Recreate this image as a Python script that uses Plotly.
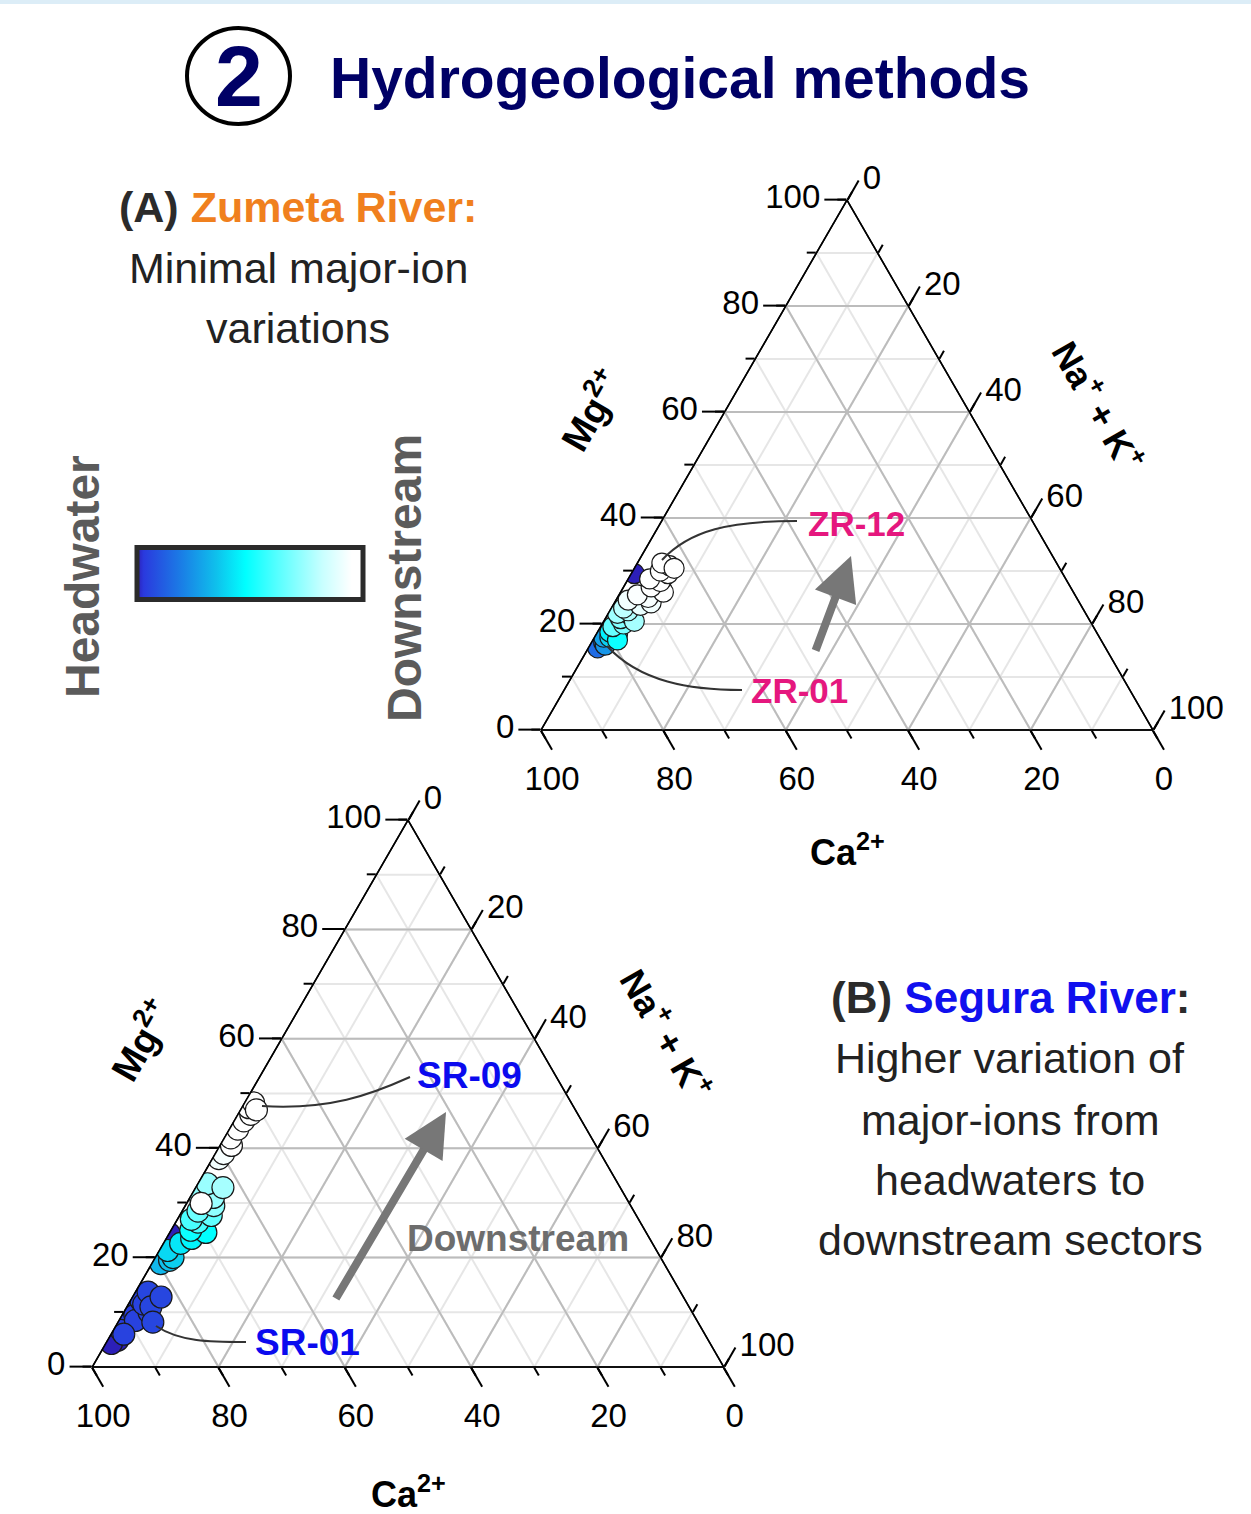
import numpy as np
import plotly.graph_objects as go

W, H = 1251, 1514

# ---------------- data ----------------
# Zumeta River (A): Mg2+, Na+ + K+ (% meq), downstream position (0 = headwater, 1 = downstream)
zr_mg  = [29.5, 17.0, 15.5, 16.5, 16.0, 17.5,
          17.5, 18.0, 18.5, 19.0, 17.0,
          19.5, 20.0, 21.0, 21.5, 22.0, 20.5, 22.5, 23.0,
          23.5, 24.0, 25.0, 25.5, 26.5, 27.0, 28.0, 28.5, 29.5, 30.0, 31.0, 31.5, 30.5, 26.0, 24.5]
zr_nak = [0.5, 2.0, 1.5, 2.0, 2.5, 1.5,
          2.5, 3.5, 2.0, 3.0, 4.0,
          2.0, 3.5, 2.5, 4.0, 1.5, 5.0, 3.0, 2.0,
          4.5, 6.0, 5.0, 3.0, 6.5, 4.5, 5.5, 3.5, 6.0, 4.5, 5.5, 4.0, 6.5, 7.0, 2.0]
zr_pos = [0.00, 0.12, 0.15, 0.20, 0.25, 0.28,
          0.38, 0.42, 0.45, 0.48, 0.50,
          0.65, 0.68, 0.70, 0.72, 0.75, 0.76, 0.78, 0.80,
          0.90, 0.92, 0.93, 0.94, 0.95, 0.96, 0.97, 0.98, 0.99, 1.00, 1.00, 1.00, 1.00, 0.95, 0.92]

# Segura River (B)
sr_mg  = [13.7, 12.8, 12.2, 11.7, 11.0, 10.5, 9.8, 9.1, 8.5, 8.2, 7.6, 6.7, 6.0, 4.9, 4.3, 12.8, 10.0, 11.5, 9.5,
          18.9, 19.5, 20.0, 21.3, 22.6, 24.6, 25.0, 23.5, 26.5, 27.7, 28.5, 29.5, 31.0, 32.2, 32.8, 33.5,
          30.5, 27.0, 24.4, 29.9,
          38.1, 39.0, 40.5, 41.9, 43.5, 45.0, 46.2, 47.4, 48.3, 47.0]
sr_nak = [2.0, 3.5, 1.6, 0.8, 3.8, 1.5, 3.2, 1.1, 2.6, 5.5, 1.4, 1.2, 2.0, 1.6, 0.9, 4.5, 4.0, 2.4, 2.0,
          1.4, 2.5, 2.8, 1.3, 2.7, 5.7, 3.1, 4.0, 3.5, 5.0, 2.5, 4.5, 3.7, 0.3, 4.3, 1.5,
          2.0, 2.2, 0.0, 2.3,
          1.0, 1.3, 1.8, 1.0, 1.3, 1.5, 2.0, 1.1, 1.4, 2.5]
sr_pos = [0.06, 0.05, 0.05, 0.04, 0.06, 0.04, 0.05, 0.04, 0.05, 0.06, 0.04, 0.04, 0.05, 0.00, 0.00, 0.06, 0.05, 0.05, 0.04,
          0.33, 0.35, 0.38, 0.40, 0.43, 0.48, 0.50, 0.46, 0.60, 0.64, 0.66, 0.72, 0.74, 0.72, 0.76, 0.74,
          0.70, 0.60, 0.00, 1.00,
          0.92, 0.93, 0.95, 0.95, 0.97, 0.98, 0.99, 1.00, 1.00, 1.00]

tick_major = [0, 20, 40, 60, 80, 100]
tick_minor = list(range(0, 101, 10))

colorscale = [[0.0, "#2c1fb8"], [0.03, "#2a3ade"], [0.2, "#1a7fe6"], [0.35, "#0fc0ec"],
              [0.48, "#00ffff"], [0.62, "#55ffff"], [0.82, "#c8ffff"], [0.95, "#ffffff"],
              [1.0, "#ffffff"]]

FONT = "Liberation Sans, Arial, sans-serif"


def px(x, y):
    return x / W, 1 - y / H


def ca_from(mg, nak):
    return [100 - m - n for m, n in zip(mg, nak)]


def sorted_data(mg, nak, pos):
    order = np.argsort(pos, kind="stable")
    return list(np.array(mg)[order]), list(np.array(nak)[order]), list(np.array(pos)[order])


fig = go.Figure()

# ---------------- ternary layouts ----------------
def minor_axis(ticklen):
    return dict(tickmode="array", tickvals=tick_minor, showticklabels=False,
                ticks="outside", ticklen=ticklen, tickwidth=1.5, tickcolor="black",
                showgrid=True, gridcolor="#e6e6e6", gridwidth=1.5,
                showline=True, linecolor="black", linewidth=1.5, title=dict(text=""))


def major_axis(ticklen):
    return dict(tickmode="array", tickvals=tick_major, ticktext=[str(v) for v in tick_major],
                showticklabels=True, tickfont=dict(family=FONT, size=33, color="black"),
                ticks="outside", ticklen=ticklen, tickwidth=1.5, tickcolor="black",
                showgrid=True, gridcolor="#bcbcbc", gridwidth=1.5,
                showline=True, linecolor="black", linewidth=1.5, title=dict(text=""))


domA = dict(x=[541 / W, 1153 / W], y=[1 - 730 / H, 1 - 200 / H])
domB = dict(x=[91 / W, 725 / W], y=[1 - 1367 / H, 1 - 820 / H])

layout_ternaries = {}
for name_minor, name_major, dom in [("ternary", "ternary2", domA), ("ternary3", "ternary4", domB)]:
    layout_ternaries[name_minor] = dict(domain=dom, sum=100, bgcolor="white",
                                        aaxis=minor_axis(9), baxis=minor_axis(9), caxis=minor_axis(9))
    layout_ternaries[name_major] = dict(domain=dom, sum=100, bgcolor="rgba(0,0,0,0)",
                                        aaxis=major_axis(22), baxis=major_axis(22), caxis=major_axis(22))

# empty traces so that the minor-grid ternary layers get drawn
for sp in ["ternary", "ternary3"]:
    fig.add_trace(go.Scatterternary(a=[], b=[], c=[], subplot=sp, mode="markers",
                                    showlegend=False, hoverinfo="skip"))

# ---------------- traces ----------------
mg, nak, pos = sorted_data(zr_mg, zr_nak, zr_pos)
fig.add_trace(go.Scatterternary(
    a=mg, b=ca_from(mg, nak), c=nak, subplot="ternary2", mode="markers",
    marker=dict(size=20, color=pos, colorscale=colorscale, cmin=0, cmax=1,
                line=dict(width=1.2, color="#1a1a1a"), opacity=1,
                showscale=True,
                colorbar=dict(orientation="h", lenmode="pixels", len=226, thickness=52,
                              x=250 / W, xanchor="center", y=1 - 576 / H, yanchor="middle",
                              xpad=0, ypad=0, outlinewidth=5, outlinecolor="#2b2b2b",
                              showticklabels=False, ticks="")),
    showlegend=False, hoverinfo="skip"))

mg, nak, pos = sorted_data(sr_mg, sr_nak, sr_pos)
fig.add_trace(go.Scatterternary(
    a=mg, b=ca_from(mg, nak), c=nak, subplot="ternary4", mode="markers",
    marker=dict(size=22, color=pos, colorscale=colorscale, cmin=0, cmax=1,
                line=dict(width=1.2, color="#1a1a1a"), showscale=False),
    showlegend=False, hoverinfo="skip"))

# ---------------- annotations ----------------
ann = []


def text(x, y, s, size, color="black", bold=False, family=FONT, angle=0, xanchor="center"):
    xx, yy = px(x, y)
    ann.append(dict(x=xx, y=yy, xref="paper", yref="paper", text=(f"<b>{s}</b>" if bold else s),
                    showarrow=False, textangle=angle, xanchor=xanchor, yanchor="middle",
                    font=dict(family=family, size=size, color=color)))


def arrow(tx, ty, sx, sy):
    xx, yy = px(tx, ty)
    ann.append(dict(x=xx, y=yy, xref="paper", yref="paper", text="", showarrow=True,
                    ax=sx - tx, ay=sy - ty, axref="pixel", ayref="pixel",
                    arrowhead=2, arrowsize=1.1, arrowwidth=8, arrowcolor="#777777"))


# title
text(239, 76, "2", 86, "#000066", bold=True)
text(328, 78, "Hydrogeological methods", 57, "#000066", bold=True, xanchor="left")

# panel A text
text(298, 207, "(A) <span style='color:#F0801E'>Zumeta River:</span>", 43, "#2b2b2b", bold=True)
text(298, 268, "Minimal major-ion", 43, "#222222")
text(298, 328, "variations", 43, "#222222")
text(82, 577, "Headwater", 48, "#5b5b5b", bold=True, angle=-90)
text(405, 578, "Downstream", 48, "#5b5b5b", bold=True, angle=-90)

# panel B text
text(1010, 998, "(B) <span style='color:#1010EE'>Segura River</span>:", 44, "#2b2b2b", bold=True)
text(1010, 1058, "Higher variation of", 43, "#222222")
text(1010, 1120, "major-ions from", 43, "#222222")
text(1010, 1180, "headwaters to", 43, "#222222")
text(1010, 1240, "downstream sectors", 43, "#222222")

# axis titles
for (mx, my), (nx, ny), (cx, cy) in [((590, 410), (1099, 405), (847, 850)),
                                     ((140, 1040), (667, 1033), (408, 1492))]:
    text(mx, my, "Mg<sup>2+</sup>", 38, "black", bold=True, angle=-60)
    text(nx, ny, "Na<sup>+</sup> + K<sup>+</sup>", 36, "black", bold=True, angle=60)
    text(cx, cy, "Ca<sup>2+</sup>", 36, "black", bold=True)

# sample labels
text(856, 523, "ZR-12", 35, "#E5177E", bold=True)
text(800, 691, "ZR-01", 35, "#E5177E", bold=True)
text(470, 1075, "SR-09", 37, "#0A0AEE", bold=True)
text(307, 1342, "SR-01", 37, "#0A0AEE", bold=True)
text(518, 1238, "Downstream", 37, "#6d6d6d", bold=True)

# trend arrows
arrow(851, 556, 815, 652)
arrow(446, 1112, 335, 1300)

# ---------------- shapes ----------------
def path(points):
    (x0, y0), (x1, y1), (x2, y2), (x3, y3) = [px(*p) for p in points]
    return f"M {x0},{y0} C {x1},{y1} {x2},{y2} {x3},{y3}"


shapes = []
for pts in [[(662, 560), (690, 530), (730, 521), (797, 521)],
            [(607, 646), (640, 682), (690, 690), (742, 690)],
            [(262, 1106), (330, 1110), (370, 1095), (410, 1077)],
            [(156, 1326), (180, 1342), (210, 1342), (246, 1342)]]:
    shapes.append(dict(type="path", xref="paper", yref="paper", path=path(pts),
                       line=dict(color="#333333", width=2)))

cx0, cy0 = px(187, 124)
cx1, cy1 = px(290, 28)
shapes.append(dict(type="circle", xref="paper", yref="paper", x0=cx0, y0=cy0, x1=cx1, y1=cy1,
                   line=dict(color="black", width=4)))
bx0, by0 = px(0, 4)
bx1, by1 = px(W, 0)
shapes.append(dict(type="rect", xref="paper", yref="paper", x0=bx0, y0=by0, x1=bx1, y1=by1,
                   line=dict(width=0), fillcolor="#dcedf7"))

fig.update_layout(width=W, height=H, margin=dict(l=0, r=0, t=0, b=0),
                  paper_bgcolor="white", plot_bgcolor="white",
                  annotations=ann, shapes=shapes, **layout_ternaries)

fig.write_html("out.html", config={"displayModeBar": False},
               post_script="document.body.style.margin='0px';")
